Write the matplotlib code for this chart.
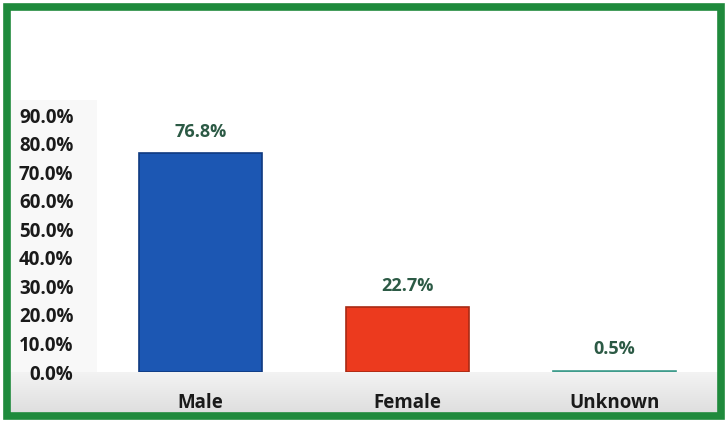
import matplotlib
matplotlib.use("Agg")
import matplotlib.pyplot as plt
import numpy as np
from matplotlib.patches import Rectangle
from matplotlib.ticker import FuncFormatter

categories = ["Male", "Female", "Unknown"]
values = [76.8, 22.7, 0.5]
labels = ["76.8%", "22.7%", "0.5%"]
colors = ["#1c57b3", "#ec3a1e", "#3f9c8c"]
edges = ["#0f3a80", "#a82a14", "#3f9c8c"]

plt.rcParams['font.family'] = ['Open Sans', 'DejaVu Sans']

fig = plt.figure(figsize=(7.28, 4.23), dpi=100)
fig.patch.set_facecolor("white")

# faint grey area left of plot and gradient band below
bg = fig.add_axes([0, 0, 1, 1], zorder=-5)
bg.set_xlim(0, 728)
bg.set_ylim(423, 0)
bg.axis("off")
bg.add_patch(Rectangle((10, 100), 87, 272, facecolor="#f8f8f8", edgecolor="none"))
grad = np.linspace(0, 1, 50).reshape(-1, 1)
bg.imshow(grad, extent=(10, 720, 414, 372), cmap=matplotlib.colors.LinearSegmentedColormap.from_list(
    "g", ["#f3f3f3", "#dedede"]), aspect="auto", origin="upper")

# green frame
fig.patches.append(Rectangle((7/728, 7/423), 714/728, 409/423, transform=fig.transFigure,
                             fill=False, edgecolor="#1f8a3c", linewidth=5.5, zorder=10))

ax = fig.add_axes([97/728, (423-372)/423, 621/728, (372-100)/423])
ax.set_facecolor("white")
x = range(len(categories))
bars = ax.bar(x, values, width=0.59, color=colors, edgecolor=edges, linewidth=1.2)
for xi, v, lab in zip(x, values, labels):
    ax.text(xi, v + 4.3, lab, ha="center", va="bottom", fontsize=13,
            fontweight="bold", color="#2c5a45")

ax.set_xlim(-0.5, 2.5)
ax.set_ylim(0, 95.3)
ax.set_yticks([i * 10 for i in range(10)])
ax.yaxis.set_major_formatter(FuncFormatter(lambda v, p: f"{v:.1f}%"))
ax.set_xticks(list(x))
ax.set_xticklabels(categories)
for s in ax.spines.values():
    s.set_visible(False)
ax.tick_params(axis="both", length=0, labelsize=13.5, colors="#1a1a1a")
ax.tick_params(axis="x", pad=15)
ax.tick_params(axis="y", pad=17)
for t in ax.get_xticklabels() + ax.get_yticklabels():
    t.set_fontweight("bold")

fig.savefig("out.png", dpi=100, facecolor=fig.get_facecolor())
